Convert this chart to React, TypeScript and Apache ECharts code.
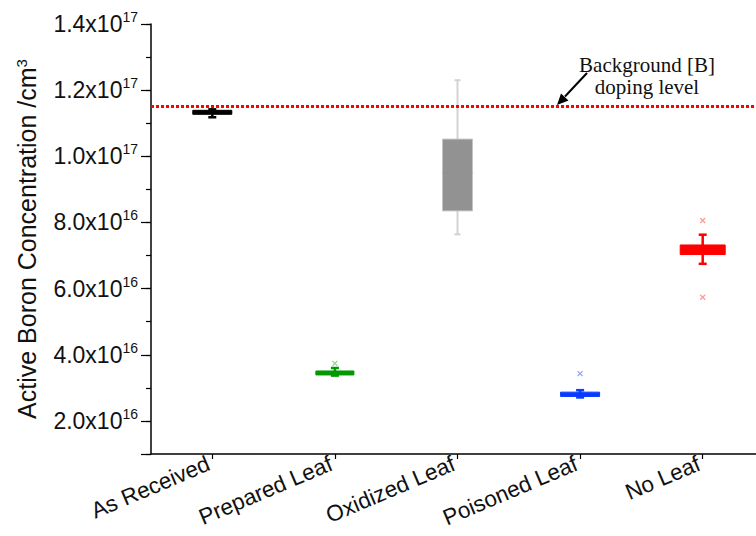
import React, { useEffect, useRef } from 'react';
import * as echarts from 'echarts';

// ---------- data ----------
const categories = ['As Received', 'Prepared Leaf', 'Oxidized Leaf', 'Poisoned Leaf', 'No Leaf'];
const whiskerMin = [1.118e17, 3.37e16, 7.64e16, 2.71e16, 6.75e16];
const quartile1 = [1.127e17, 3.39e16, 8.35e16, 2.74e16, 7.03e16];
const medians = [1.133e17, 3.45e16, 9.5e16, 2.81e16, 7.18e16];
const quartile3 = [1.139e17, 3.51e16, 1.052e17, 2.87e16, 7.32e16];
const whiskerMax = [1.142e17, 3.6e16, 1.23e17, 2.93e16, 7.63e16];
const outlierCategory = [1, 3, 4, 4];
const outlierValue = [3.74e16, 3.43e16, 8.06e16, 5.74e16];
const backgroundLevel = 1.152e17;
const yTickValues = [2e16, 4e16, 6e16, 8e16, 1e17, 1.2e17, 1.4e17];

// ---------- styles ----------
const boxStyles = [
  { fill: '#000000', border: '#000000', whisker: '#000000', boxW: 39, capW: 8, lw: 2.5 },
  { fill: '#009a00', border: '#009a00', whisker: '#009a00', boxW: 38, capW: 8, lw: 2.5 },
  { fill: '#929292', border: '#c4c4c4', whisker: '#d2d2d2', boxW: 30, capW: 6, lw: 2 },
  { fill: '#0a3cff', border: '#0a3cff', whisker: '#0a3cff', boxW: 39, capW: 8, lw: 2.5 },
  { fill: '#ff0000', border: '#ff0000', whisker: '#ff0000', boxW: 45, capW: 8, lw: 2.5 },
];
const outlierColors = ['#000000', '#8fcf8f', '#cccccc', '#8c9cff', '#ff9a9a'];

const SANS = 'Liberation Sans, Arial, sans-serif';
const SERIF = 'Liberation Serif, Times New Roman, serif';

function sciLabel(v: number): string {
  if (!yTickValues.some((t) => Math.abs(t - v) < 1e13)) return '';
  const e = Math.floor(Math.log10(v) + 1e-9);
  const m = v / Math.pow(10, e);
  return `{m|${m.toFixed(1)}x10}{e|${e}}`;
}

export default function App() {
  const ref = useRef<HTMLDivElement>(null);

  useEffect(() => {
    if (!ref.current) return;
    const chart = echarts.init(ref.current, undefined, { renderer: 'svg' });

    const boxRows = categories.map((_, i) => [
      i,
      whiskerMin[i],
      quartile1[i],
      medians[i],
      quartile3[i],
      whiskerMax[i],
    ]);
    const outlierRows = outlierCategory.map((c, i) => [c, outlierValue[i]]);

    const option: any = {
      animation: false,
      backgroundColor: '#ffffff',
      textStyle: { fontFamily: SANS },
      grid: { left: 151, top: 24, width: 613, height: 430, containLabel: false, outerBoundsMode: 'none' },
      xAxis: {
        type: 'category',
        data: categories,
        axisLine: { show: true, lineStyle: { color: '#000', width: 1.5 } },
        axisTick: { show: true, alignWithLabel: true, inside: false, length: 5, lineStyle: { color: '#000', width: 1.2 } },
        axisLabel: {
          rotate: 23,
          margin: 7,
          fontSize: 22.5,
          color: '#111',
          fontFamily: SANS,
          padding: [0, 4, 0, 0],
        },
        splitLine: { show: false },
      },
      yAxis: [
        {
          type: 'value',
          min: 1e16,
          max: 1.4e17,
          splitNumber: 6,
          minInterval: 2e16,
          maxInterval: 2e16,
          name: 'Active Boron Concentration /cm{s|3}',
          nameLocation: 'middle',
          nameGap: 112,
          nameTextStyle: {
            fontSize: 25,
            color: '#111',
            fontFamily: SANS,
            rich: { s: { fontSize: 15, verticalAlign: 'top', color: '#111', fontFamily: SANS } },
          },
          axisLine: { show: true, lineStyle: { color: '#000', width: 1.5 } },
          axisTick: { show: true, inside: false, length: 10, lineStyle: { color: '#000', width: 1.2 } },
          axisLabel: {
            margin: 13,
            formatter: sciLabel,
            rich: {
              m: { fontSize: 23, color: '#111', fontFamily: SANS, lineHeight: 28 },
              e: { fontSize: 14, color: '#111', fontFamily: SANS, verticalAlign: 'top', lineHeight: 14 },
            },
          },
          splitLine: { show: false },
        },
        {
          type: 'value',
          min: 1e16,
          max: 1.4e17,
          interval: 1e16,
          position: 'left',
          axisLine: { show: false },
          axisTick: { show: true, inside: false, length: 5, lineStyle: { color: '#000', width: 1.2 } },
          axisLabel: { show: false },
          splitLine: { show: false },
        },
      ],
      series: [
        {
          type: 'custom',
          name: 'boxes',
          data: boxRows,
          encode: { x: 0, y: [1, 2, 3, 4, 5] },
          renderItem: (params: any, api: any) => {
            const i = params.dataIndex;
            const st = boxStyles[i];
            const cat = api.value(0);
            const pMin = api.coord([cat, api.value(1)]);
            const pQ1 = api.coord([cat, api.value(2)]);
            const pMed = api.coord([cat, api.value(3)]);
            const pQ3 = api.coord([cat, api.value(4)]);
            const pMax = api.coord([cat, api.value(5)]);
            const cx = pMin[0];
            const lineStyle = { stroke: st.whisker, lineWidth: st.lw };
            return {
              type: 'group',
              children: [
                { type: 'line', shape: { x1: cx, y1: pMax[1], x2: cx, y2: pMin[1] }, style: lineStyle },
                { type: 'line', shape: { x1: cx - st.capW / 2, y1: pMax[1], x2: cx + st.capW / 2, y2: pMax[1] }, style: lineStyle },
                { type: 'line', shape: { x1: cx - st.capW / 2, y1: pMin[1], x2: cx + st.capW / 2, y2: pMin[1] }, style: lineStyle },
                {
                  type: 'rect',
                  shape: { x: cx - st.boxW / 2, y: pQ3[1], width: st.boxW, height: pQ1[1] - pQ3[1] },
                  style: { fill: st.fill, stroke: st.border, lineWidth: 1 },
                },
                {
                  type: 'line',
                  shape: { x1: cx - st.boxW / 2, y1: pMed[1], x2: cx + st.boxW / 2, y2: pMed[1] },
                  style: { stroke: st.fill, lineWidth: 1 },
                },
              ],
            };
          },
          markLine: {
            silent: true,
            symbol: ['none', 'none'],
            label: { show: false },
            lineStyle: { color: '#ff0000', width: 3, type: [3, 2] },
            data: [{ yAxis: backgroundLevel }],
          },
          z: 3,
        },
        {
          type: 'custom',
          name: 'outliers',
          data: outlierRows,
          encode: { x: 0, y: 1 },
          renderItem: (params: any, api: any) => {
            const p = api.coord([api.value(0), api.value(1)]);
            const c = outlierColors[api.value(0)];
            const s = 2.5;
            const style = { stroke: c, lineWidth: 1.2 };
            return {
              type: 'group',
              children: [
                { type: 'line', shape: { x1: p[0] - s, y1: p[1] - s, x2: p[0] + s, y2: p[1] + s }, style },
                { type: 'line', shape: { x1: p[0] - s, y1: p[1] + s, x2: p[0] + s, y2: p[1] - s }, style },
              ],
            };
          },
          z: 3,
        },
      ],
      graphic: [
        {
          type: 'text',
          x: 647,
          y: 65,
          style: { text: 'Background [B]', fontSize: 21, fontFamily: SERIF, fill: '#111', align: 'center', verticalAlign: 'middle' },
          z: 10,
        },
        {
          type: 'text',
          x: 647,
          y: 87,
          style: { text: 'doping level', fontSize: 21, fontFamily: SERIF, fill: '#111', align: 'center', verticalAlign: 'middle' },
          z: 10,
        },
        {
          type: 'line',
          shape: { x1: 587, y1: 73, x2: 565, y2: 96.5 },
          style: { stroke: '#000', lineWidth: 2 },
          z: 10,
        },
        {
          type: 'polygon',
          shape: { points: [[557, 105], [568.5, 100.5], [561, 93.5]] },
          style: { fill: '#000' },
          z: 10,
        },
      ],
    };

    chart.setOption(option);
    return () => chart.dispose();
  }, []);

  return (
    <div
      ref={ref}
      style={{ position: 'absolute', left: 0, top: 0, width: 756, height: 536 }}
    />
  );
}
